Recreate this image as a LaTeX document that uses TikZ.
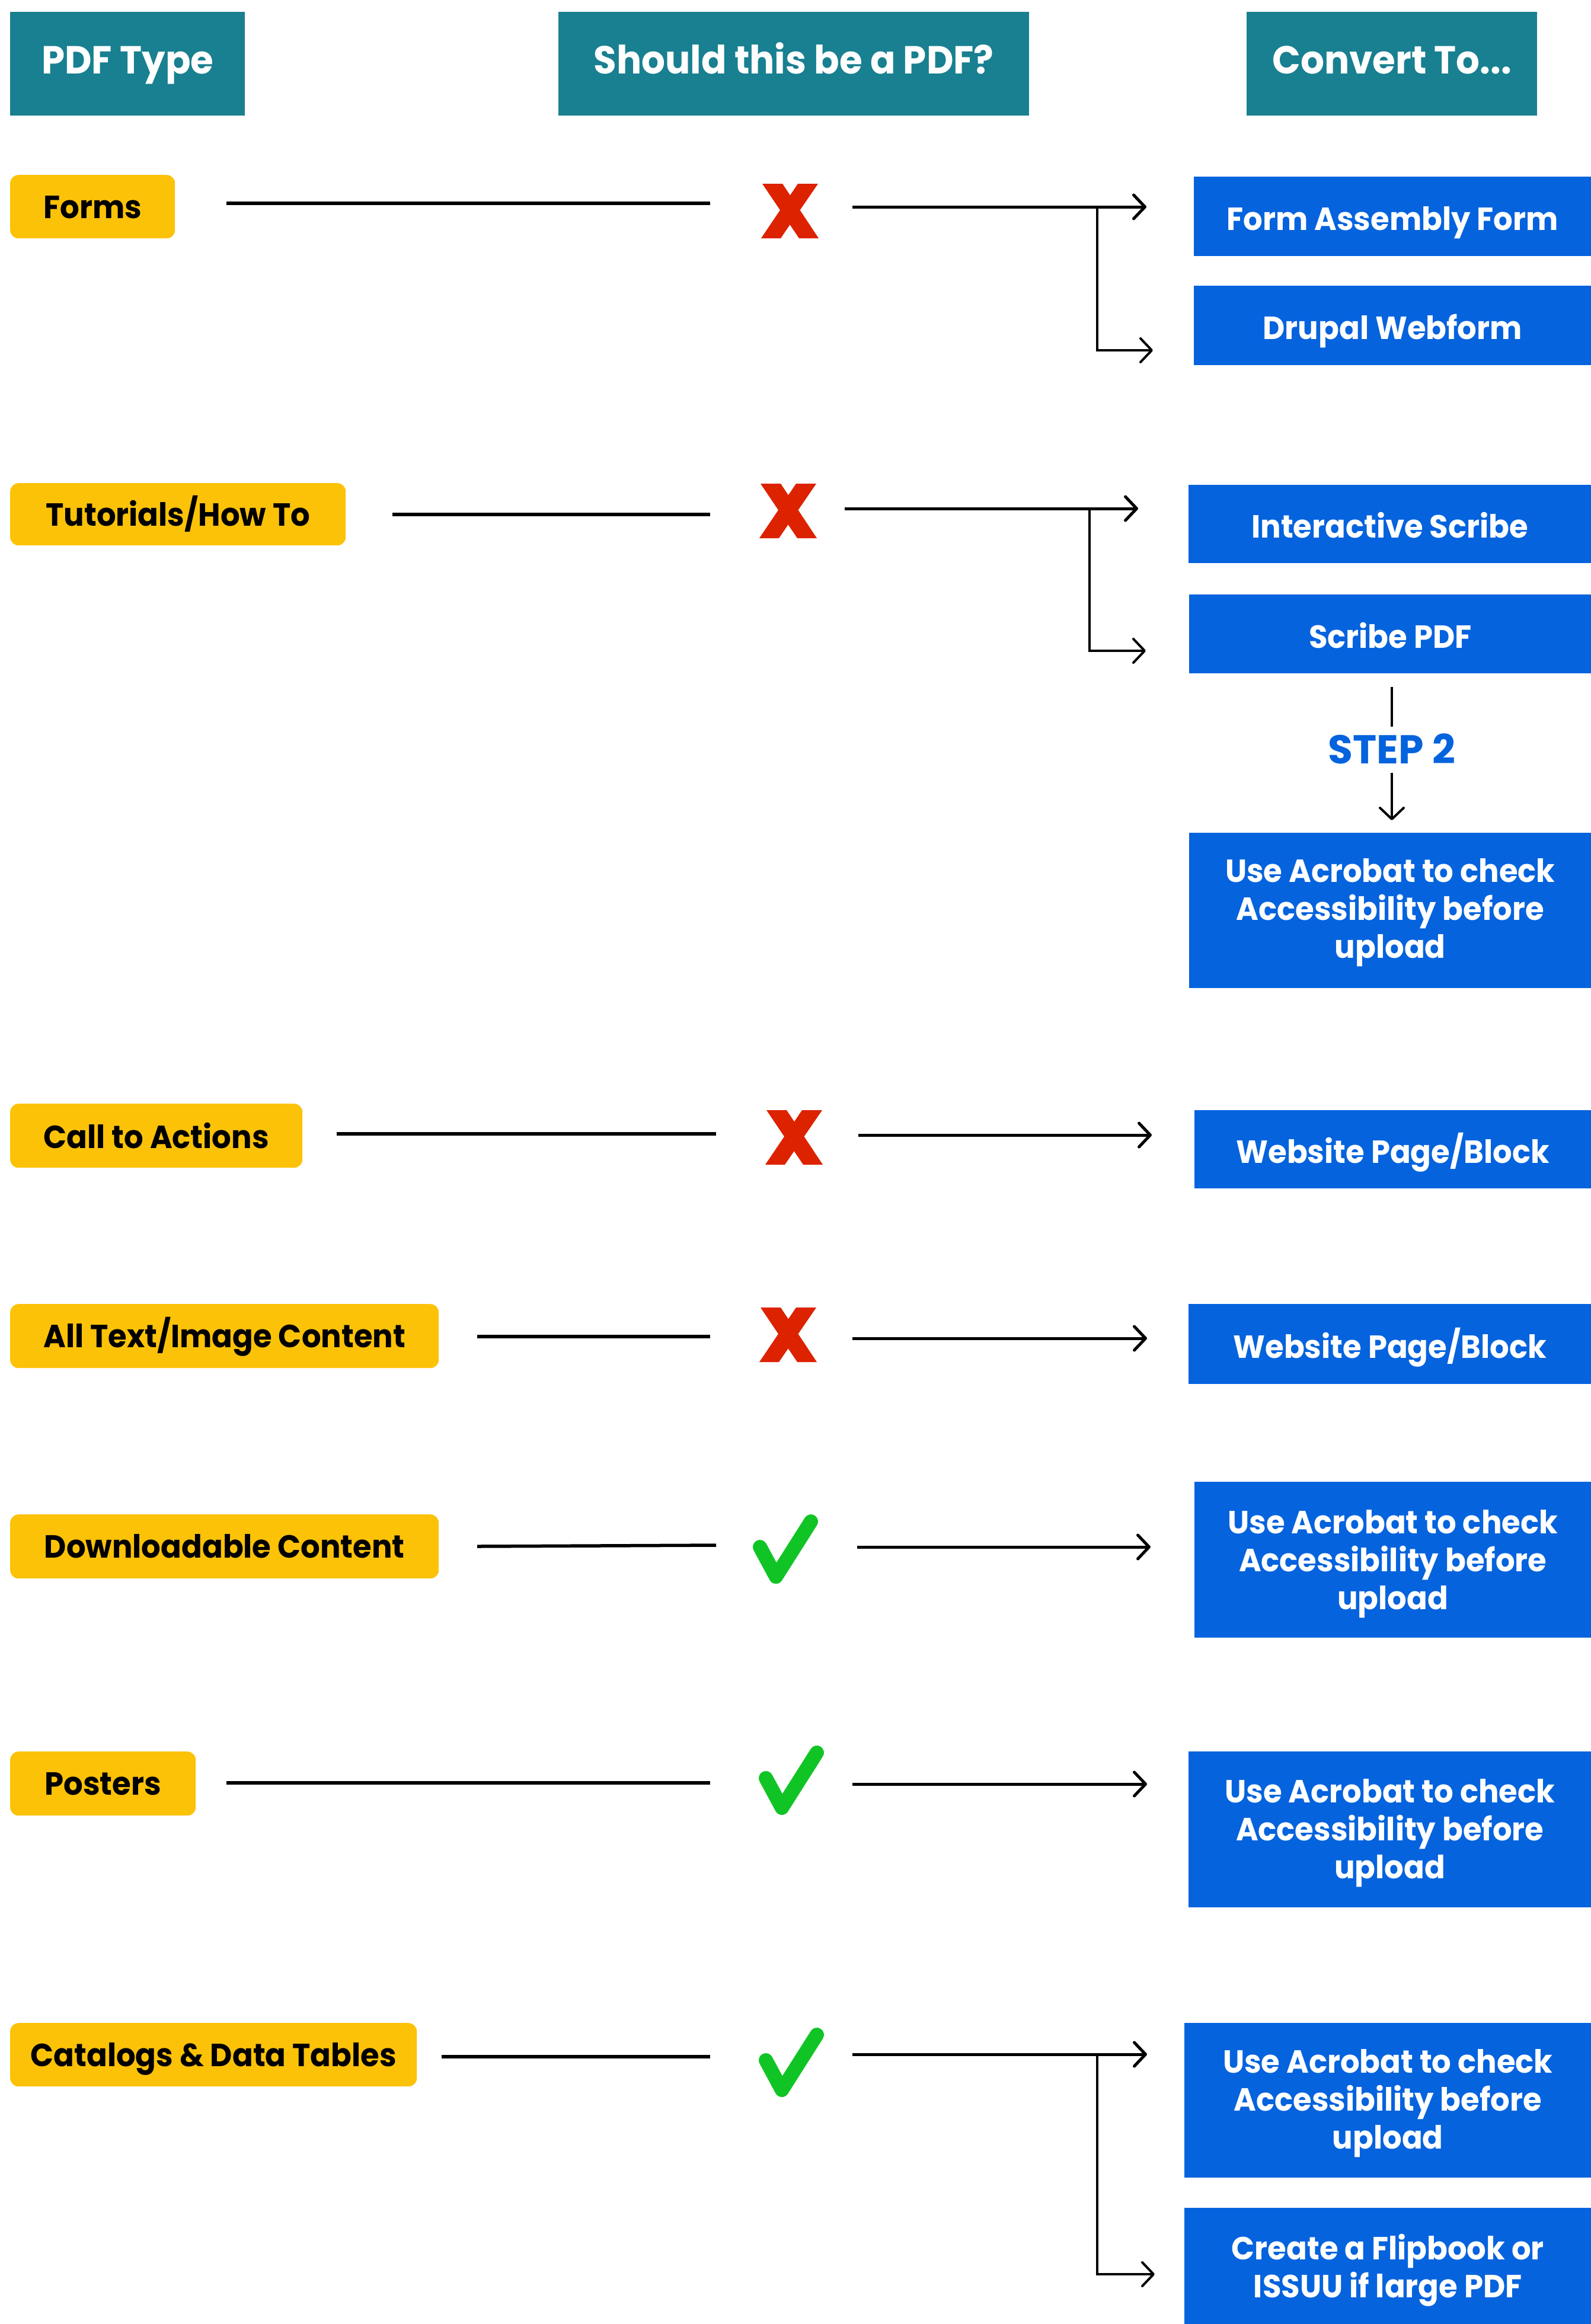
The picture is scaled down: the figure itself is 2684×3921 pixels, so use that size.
\documentclass[tikz,border=0pt]{standalone}
\usepackage{fontspec}
\setmainfont{Poppins}[FakeStretch=0.95]
\newfontfamily\stepfont{Poppins}
\usetikzlibrary{arrows.meta}
\definecolor{hdrc}{RGB}{24,128,144}
\definecolor{yel}{RGB}{252,194,8}
\definecolor{blu}{RGB}{5,99,222}
\definecolor{xred}{RGB}{221,34,0}
\definecolor{okgreen}{RGB}{16,196,37}
\begin{document}
\begin{tikzpicture}[x=1pt,y=-1pt,
  hdr/.style={fill=hdrc, text=white, font=\fontsize{66}{66}\selectfont\bfseries, inner sep=0pt, text height=33pt, text depth=0pt, anchor=north west},
  lab/.style={fill=yel, rounded corners=14pt, text=black, font=\fontsize{54}{64}\selectfont\bfseries, inner sep=0pt, text height=39pt, text depth=0pt, anchor=north west},
  bbox/.style={fill=blu, text=white, font=\fontsize{54}{64}\selectfont\bfseries, inner sep=0pt, align=center, anchor=north west},
  one/.style={text height=47pt, text depth=0pt},
  ln/.style={line width=5.5pt},
  arr/.style={line width=5pt, -{Straight Barb[length=19pt,width=40pt,round]}},
  brn/.style={line width=4pt, -{Straight Barb[length=19pt,width=40pt,round]}},
  xmark/.pic={\fill[xred] (-47,-46) -- (-13,-46) -- (48,46) -- (15,46) -- cycle;
              \fill[xred] (13,-46) -- (47,-46) -- (-16,46) -- (-49,46) -- cycle;},
  okmark/.pic={\draw[okgreen, line width=24pt, line cap=round, line join=round] (-43,-2) -- (-16,48) -- (43,-45);}
]
\fill[white] (0,0) rectangle (2684,3921);
\useasboundingbox (0,0) rectangle (2684,3921);

% headers
\node[hdr, minimum width=396pt, minimum height=175pt] (h1) at (17,20) {PDF Type};
\node[hdr, minimum width=794pt, minimum height=175pt] (h2) at (942,20) {Should this be a PDF?};
\node[hdr, minimum width=490pt, minimum height=175pt] (h3) at (2103,20) {Convert To...};

% labels
\node[lab, minimum width=278pt, minimum height=107pt] (l1) at (17,295) {Forms};
\node[lab, minimum width=566pt, minimum height=105pt] (l2) at (17,815) {Tutorials/How To};
\node[lab, minimum width=493pt, minimum height=108pt, text height=42pt] (l3) at (17,1862) {Call to Actions};
\node[lab, minimum width=723pt, minimum height=108pt] (l4) at (17,2200) {All Text/Image Content};
\node[lab, minimum width=723pt, minimum height=108pt] (l5) at (17,2555) {Downloadable Content};
\node[lab, minimum width=313pt, minimum height=108pt] (l6) at (17,2955) {Posters};
\node[lab, minimum width=686pt, minimum height=107pt] (l7) at (17,3413) {Catalogs \& Data Tables};

% target boxes
\node[bbox, one, minimum width=670pt, minimum height=134pt] (b1a) at (2014,298) {Form Assembly Form};
\node[bbox, one, minimum width=670pt, minimum height=134pt] (b1b) at (2014,482) {Drupal Webform};
\node[bbox, one, minimum width=679pt, minimum height=132pt] (b2a) at (2005,818) {Interactive Scribe};
\node[bbox, one, minimum width=678pt, minimum height=133pt] (b2b) at (2006,1003) {Scribe PDF};
\node[bbox, minimum width=678pt, minimum height=262pt, text depth=7pt] (b2c) at (2006,1405) {Use Acrobat to check\\Accessibility before\\upload};
\node[bbox, one, minimum width=669pt, minimum height=132pt] (b3) at (2015,1873) {Website Page/Block};
\node[bbox, one, minimum width=679pt, minimum height=135pt] (b4) at (2005,2200) {Website Page/Block};
\node[bbox, minimum width=669pt, minimum height=263pt, text depth=0pt] (b5) at (2015,2500) {Use Acrobat to check\\Accessibility before\\upload};
\node[bbox, minimum width=679pt, minimum height=263pt, text depth=3pt] (b6) at (2005,2955) {Use Acrobat to check\\Accessibility before\\upload};
\node[bbox, minimum width=686pt, minimum height=261pt, text depth=4pt] (b7a) at (1998,3413) {Use Acrobat to check\\Accessibility before\\upload};
\node[bbox, minimum width=686pt, minimum height=196pt, text depth=0pt] (b7b) at (1998,3725) {Create a Flipbook or\\ISSUU if large PDF};

% marks
\pic (x1) at (1333,356) {xmark};
\pic (x2) at (1330,862) {xmark};
\pic (x3) at (1340,1919) {xmark};
\pic (x4) at (1330,2252) {xmark};
\pic (c5) at (1325,2612) {okmark};
\pic (c6) at (1335,3002) {okmark};
\pic (c7) at (1335,3478) {okmark};

% step 2
\node[text=blu, font=\stepfont\fontsize{68}{68}\selectfont\bfseries, inner sep=0pt, text height=48pt, text depth=0pt] (stp) at (2348,1264) {STEP 2};

% coordinates
\coordinate (s1) at (382,343);  \coordinate (e1) at (1198,343);
\coordinate (a1) at (1438,349); \coordinate (t1) at (1934,349);
\coordinate (j1) at (1851,349); \coordinate (k1) at (1851,591); \coordinate (u1) at (1945,591);
\coordinate (s2) at (662,868);  \coordinate (e2) at (1198,868);
\coordinate (a2) at (1425,858); \coordinate (t2) at (1920,858);
\coordinate (j2) at (1838,858); \coordinate (k2) at (1838,1098); \coordinate (u2) at (1933,1098);
\coordinate (p1) at (2348,1159); \coordinate (p2) at (2348,1226);
\coordinate (p3) at (2348,1304); \coordinate (p4) at (2348,1384);
\coordinate (s3) at (568,1913); \coordinate (e3) at (1208,1913);
\coordinate (a3) at (1448,1915); \coordinate (t3) at (1943,1915);
\coordinate (s4) at (805,2255); \coordinate (e4) at (1198,2255);
\coordinate (a4) at (1438,2258); \coordinate (t4) at (1935,2258);
\coordinate (s5) at (805,2609); \coordinate (e5) at (1208,2607);
\coordinate (a5) at (1446,2610); \coordinate (t5) at (1941,2610);
\coordinate (s6) at (382,3008); \coordinate (e6) at (1198,3008);
\coordinate (a6) at (1438,3010); \coordinate (t6) at (1935,3010);
\coordinate (s7) at (745,3470); \coordinate (e7) at (1198,3470);
\coordinate (a7) at (1438,3466); \coordinate (t7) at (1935,3466);
\coordinate (j7) at (1851,3466); \coordinate (k7) at (1851,3837); \coordinate (u7) at (1948,3837);

% connectors
\draw[ln] (s1) -- (e1); \draw[arr] (a1) -- (t1); \draw[brn] (j1) -- (k1) -- (u1);
\draw[ln] (s2) -- (e2); \draw[arr] (a2) -- (t2); \draw[brn] (j2) -- (k2) -- (u2);
\draw[line width=4pt] (p1) -- (p2); \draw[brn] (p3) -- (p4);
\draw[ln] (s3) -- (e3); \draw[arr] (a3) -- (t3);
\draw[ln] (s4) -- (e4); \draw[arr] (a4) -- (t4);
\draw[ln] (s5) -- (e5); \draw[arr] (a5) -- (t5);
\draw[ln] (s6) -- (e6); \draw[arr] (a6) -- (t6);
\draw[ln] (s7) -- (e7); \draw[arr] (a7) -- (t7); \draw[brn] (j7) -- (k7) -- (u7);
\end{tikzpicture}
\end{document}
